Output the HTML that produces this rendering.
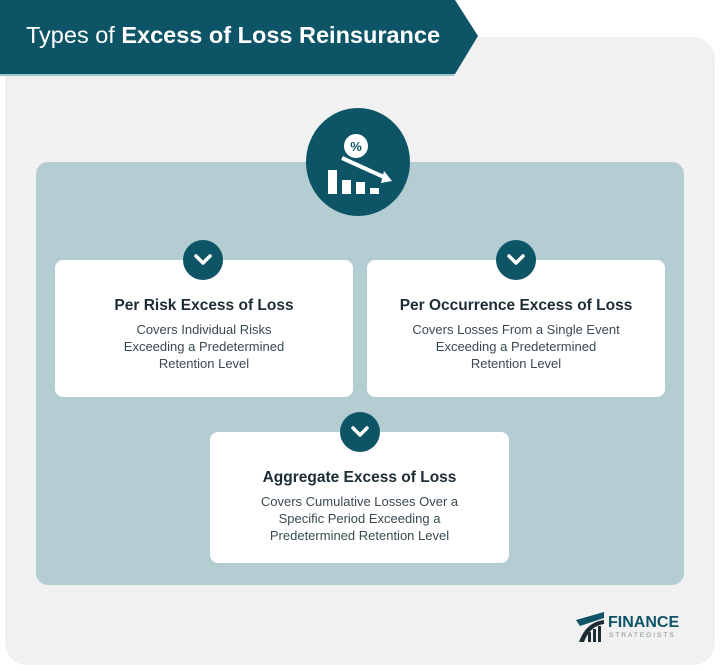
<!DOCTYPE html><html><head><style>
body{margin:0;width:720px;height:671px;background:#fff;font-family:"Liberation Sans",sans-serif;position:relative;overflow:hidden}
.a{position:absolute}
.card{position:absolute;background:#fff;border-radius:8px;text-align:center;color:#1d3a44}
.card h3{margin:0;font-size:15.5px;font-weight:bold;color:#1d2d35}
.card p{margin:6px 0 0;font-size:13px;line-height:17px;color:#3a4a52}
.chev{position:absolute;width:40px;height:40px;border-radius:50%;background:#0d5566}
</style></head><body>
<div class="a" style="left:5px;top:37px;width:710px;height:628px;background:#f1f1f1;border-radius:22px"></div>
<svg class="a" style="left:0;top:0" width="480" height="76"><polygon points="0,0 455,0 478,36 455,74 0,74" fill="#0d5566"/><rect x="0" y="74" width="454" height="2" fill="#9cc7cf"/></svg>
<div class="a" style="left:26px;top:22px;color:#fff;font-size:23.5px">Types of <b>Excess of Loss Reinsurance</b></div>
<div class="a" style="left:36px;top:162px;width:648px;height:423px;background:#b3cdd2;border-radius:12px"></div>
<div class="a" style="left:306px;top:108px;width:104px;height:108px;border-radius:50%;background:#0d5566"></div>
<svg class="a" style="left:306px;top:108px" width="104" height="108">
<circle cx="50" cy="38" r="12" fill="#fff"/><text x="50" y="43" font-size="13" font-weight="bold" text-anchor="middle" fill="#0d5566" font-family="Liberation Sans">%</text>
<line x1="36" y1="50" x2="80" y2="70" stroke="#fff" stroke-width="4"/><polygon points="78,63 86,73 75,75" fill="#fff"/>
<rect x="22" y="62" width="9" height="24" fill="#fff"/><rect x="36" y="72" width="9" height="14" fill="#fff"/><rect x="50" y="74" width="9" height="12" fill="#fff"/><rect x="64" y="80" width="9" height="6" fill="#fff"/>
</svg>
<div class="card" style="left:55px;top:260px;width:298px;height:137px"><div style="padding-top:37px"><h3>Per Risk Excess of Loss</h3><p>Covers Individual Risks<br>Exceeding a Predetermined<br>Retention Level</p></div></div>
<div class="card" style="left:367px;top:260px;width:298px;height:137px"><div style="padding-top:37px"><h3>Per Occurrence Excess of Loss</h3><p>Covers Losses From a Single Event<br>Exceeding a Predetermined<br>Retention Level</p></div></div>
<div class="card" style="left:210px;top:432px;width:299px;height:131px"><div style="padding-top:37px"><h3>Aggregate Excess of Loss</h3><p>Covers Cumulative Losses Over a<br>Specific Period Exceeding a<br>Predetermined Retention Level</p></div></div>
<div class="chev" style="left:183px;top:240px"></div><div class="chev" style="left:496px;top:240px"></div><div class="chev" style="left:340px;top:412px"></div>
<svg class="a" style="left:0;top:0" width="720" height="671" fill="none" stroke="#fff" stroke-width="3.5" stroke-linecap="round" stroke-linejoin="round">
<polyline points="196,256 203,263 210,256"/><polyline points="509,256 516,263 523,256"/><polyline points="353,428 360,435 367,428"/></svg>
<svg class="a" style="left:576px;top:612px" width="30" height="30"><polygon points="0,8 28,0 28,6 4,14" fill="#0d5566"/><path d="M3,30 Q10,10 28,8 L28,12 Q14,14 8,30Z" fill="#1d2d35"/><rect x="12" y="20" width="3" height="10" fill="#1d2d35"/><rect x="17" y="17" width="3" height="13" fill="#1d2d35"/><rect x="22" y="14" width="3" height="16" fill="#1d2d35"/></svg>
<div class="a" style="left:608px;top:614px;font-size:16px;font-weight:bold;color:#0d5566;letter-spacing:0px">FINANCE</div>
<div class="a" style="left:609px;top:632px;font-size:6.5px;color:#7a8a90;letter-spacing:2px">STRATEGISTS</div>
</body></html>
